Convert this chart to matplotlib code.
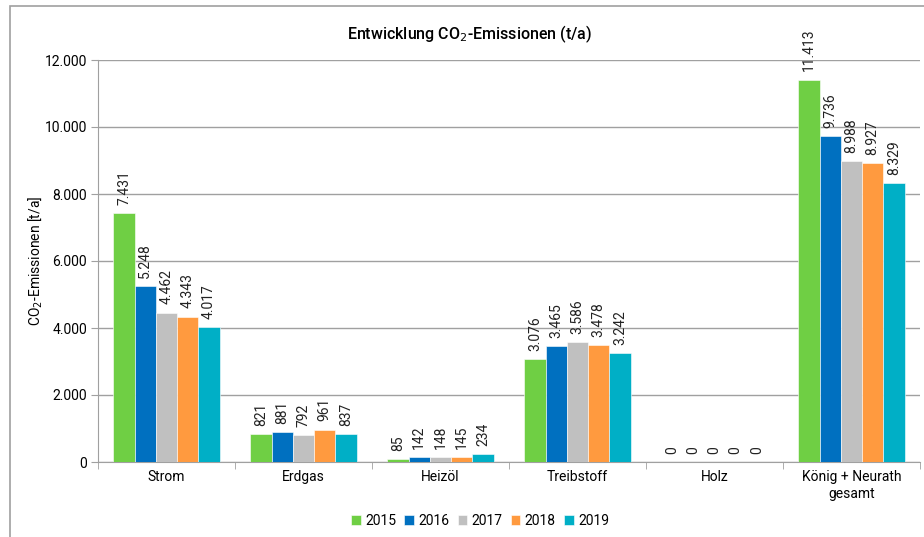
import numpy as np
import matplotlib.pyplot as plt
from matplotlib.patches import Rectangle

# ===========================
# Data
# ===========================

categories = ["Strom", "Erdgas", "Heizöl", "Treibstoff", "Holz", "König + Neurath\ngesamt"]
years = ["2015", "2016", "2017", "2018", "2019"]

values_2015 = [7431, 821, 85, 3076, 0, 11413]
values_2016 = [5248, 881, 142, 3465, 0, 9736]
values_2017 = [4462, 792, 148, 3586, 0, 8988]
values_2018 = [4343, 961, 145, 3478, 0, 8927]
values_2019 = [4017, 837, 234, 3242, 0, 8329]

series = [values_2015, values_2016, values_2017, values_2018, values_2019]
colors = ["#6FCF44", "#0070C0", "#C0C0C0", "#FF9A3F", "#00AFC6"]

yticks = [0, 2000, 4000, 6000, 8000, 10000, 12000]


def de_format(v):
    return f"{v:,.0f}".replace(",", ".")


plt.rcParams["font.family"] = ["Roboto", "DejaVu Sans"]

fig = plt.figure(figsize=(9.24, 5.37), dpi=100)
ax = fig.add_axes([98 / 924, 1 - 462 / 537, (920 - 98) / 924, (462 - 60) / 537])

x = np.arange(len(categories))
bar_w = 0.155

for i, (vals, col, yr) in enumerate(zip(series, colors, years)):
    offs = (i - 2) * bar_w
    bars = ax.bar(x + offs, vals, width=bar_w, color=col, label=yr,
                  edgecolor="white", linewidth=0.4, zorder=3)
    for b, v in zip(bars, vals):
        ax.annotate(de_format(v), (b.get_x() + b.get_width() / 2, v),
                    xytext=(0, 6), textcoords="offset points",
                    rotation=90, ha="center", va="bottom", fontsize=10,
                    color="#222222")

# ===========================
# Axes styling
# ===========================

ax.set_xlim(-0.5, len(categories) - 0.5)
ax.set_ylim(0, 12000)
ax.set_yticks(yticks)
ax.set_yticklabels([de_format(t) for t in yticks], fontsize=10)
ax.set_xticks(x)
ax.set_xticklabels(categories, fontsize=10)
ax.set_xticks(np.arange(len(categories) + 1) - 0.5, minor=True)
ax.tick_params(axis="x", which="major", length=0, pad=6)
ax.tick_params(axis="x", which="minor", length=5, color="#A0A0A0")
ax.tick_params(axis="y", length=5, color="#A0A0A0", pad=3)

ax.grid(axis="y", color="#A0A0A0", linewidth=1, zorder=0)
for side in ["top", "right"]:
    ax.spines[side].set_visible(False)
ax.spines["left"].set_color("#A0A0A0")
ax.spines["bottom"].set_color("#A0A0A0")

ax.set_ylabel("CO$_2$-Emissionen [t/a]", fontsize=10)
ax.yaxis.set_label_coords((44 - 98) / 822, 0.5)
fig.text(470 / 924, 1 - 34 / 537, "Entwicklung CO$_2$-Emissionen (t/a)",
         ha="center", va="center", fontsize=11.5, fontweight="medium")

ax.legend(loc="center", bbox_to_anchor=(480 / 924, 1 - 521 / 537),
          bbox_transform=fig.transFigure, ncol=5, frameon=False,
          fontsize=10, handlelength=0.7, handleheight=0.7,
          handletextpad=0.3, columnspacing=0.6)

# figure frame
fig.patches.append(Rectangle((10 / 924, -0.1), 1.0, 1 - 6 / 537 + 0.1,
                             transform=fig.transFigure, fill=False,
                             edgecolor="#A0A0A0", linewidth=1.2))

fig.savefig("out.png", dpi=100)
